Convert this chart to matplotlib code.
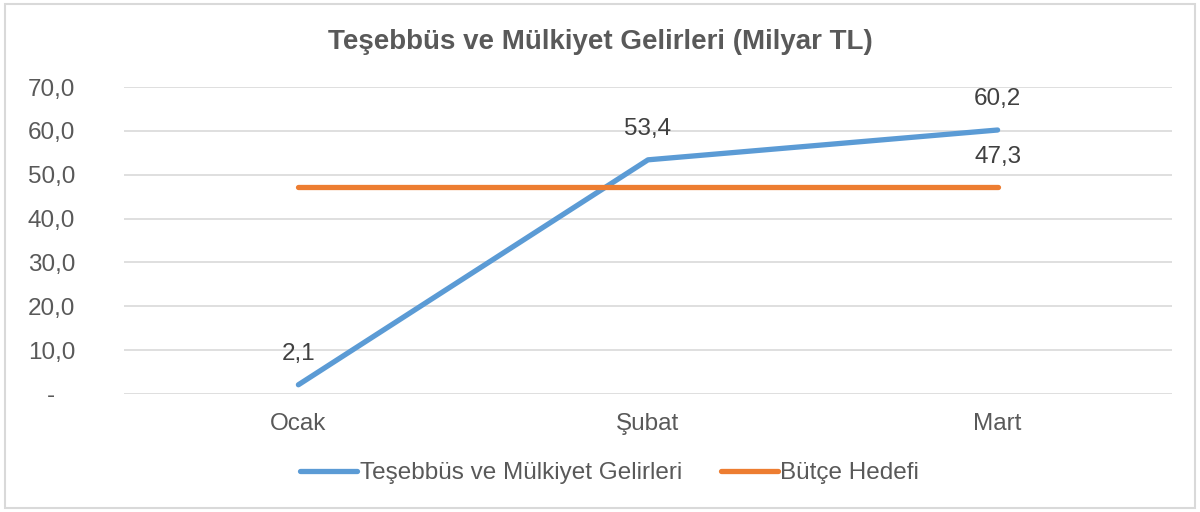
import matplotlib.pyplot as plt
from matplotlib.patches import Rectangle

aylar = ['Ocak', 'Şubat', 'Mart']
gelir = [2.1, 53.4, 60.2]
hedef = [47.3, 47.3, 47.3]
yticks = [0, 10, 20, 30, 40, 50, 60, 70]

plt.rcParams['font.family'] = ['Liberation Sans', 'DejaVu Sans']
fs = 17.5

fig = plt.figure(figsize=(12, 5.12), dpi=100)
ax = fig.add_axes([0.103, 0.2305, 0.874, 0.5995])

mavi = '#5B9BD5'
turuncu = '#ED7D31'
x = range(len(aylar))
ax.plot(x, gelir, color=mavi, lw=3.8, solid_capstyle='round',
        label='Teşebbüs ve Mülkiyet Gelirleri', zorder=3)
ax.plot(x, hedef, color=turuncu, lw=3.8, solid_capstyle='round',
        label='Bütçe Hedefi', zorder=3)

# veri etiketleri
for i, v in enumerate(gelir):
    ax.annotate(f'{v:.1f}'.replace('.', ','), (i, v), xytext=(0, 22),
                textcoords='offset points', ha='center', va='center',
                fontsize=fs, color='#404040')
ax.annotate(f'{hedef[-1]:.1f}'.replace('.', ','), (2, hedef[-1]), xytext=(0, 21),
            textcoords='offset points', ha='center', va='center',
            fontsize=fs, color='#404040')

ax.set_xlim(-0.5, 2.5)
ax.set_ylim(0, 70)
ax.set_yticks(yticks)
ax.set_yticklabels(['-' if t == 0 else f'{t:.1f}'.replace('.', ',') for t in yticks])
ax.set_xticks(list(x))
ax.set_xticklabels(aylar)
ax.grid(axis='y', color='#D9D9D9', lw=1.2)
ax.set_axisbelow(True)
for s in ax.spines.values():
    s.set_visible(False)
ax.tick_params(length=0, labelsize=fs, colors='#595959')
ax.tick_params(axis='y', pad=52)
ax.tick_params(axis='x', pad=14)
for lab in ax.get_yticklabels():
    lab.set_horizontalalignment('center')

fig.suptitle('Teşebbüs ve Mülkiyet Gelirleri (Milyar TL)', y=0.917, va='center',
             fontsize=20, fontweight='bold', color='#595959')

leg = fig.legend(loc='center', bbox_to_anchor=(0.508, 0.076), ncol=2, frameon=False,
                 fontsize=fs, handlelength=2.35, handletextpad=0.1, columnspacing=1.6)
for t in leg.get_texts():
    t.set_color('#595959')

fig.patches.append(Rectangle((0.004, 0.008), 0.992, 0.984, transform=fig.transFigure,
                             fill=False, edgecolor='#D9D9D9', lw=1.5))

fig.savefig('out.png', dpi=100)
